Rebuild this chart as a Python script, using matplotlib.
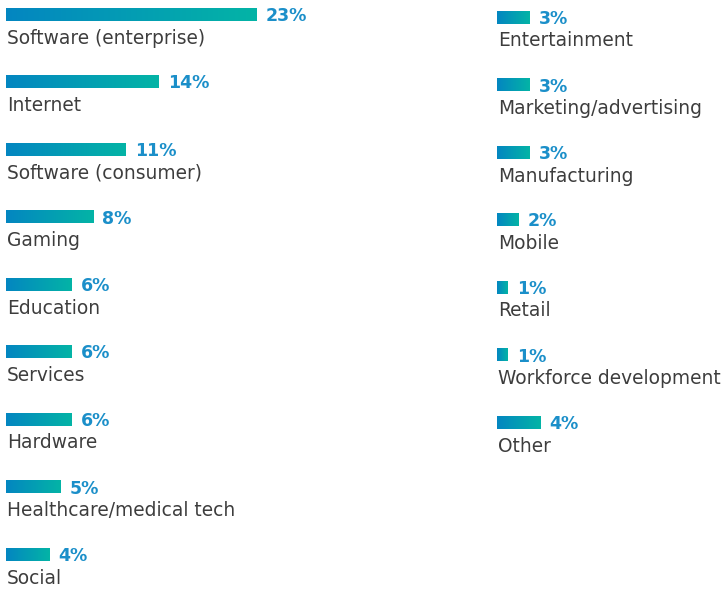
import numpy as np
import matplotlib.pyplot as plt
from matplotlib.colors import LinearSegmentedColormap

left_labels = ['Software (enterprise)', 'Internet', 'Software (consumer)', 'Gaming',
               'Education', 'Services', 'Hardware', 'Healthcare/medical tech', 'Social']
left_values = [23, 14, 11, 8, 6, 6, 6, 5, 4]

right_labels = ['Entertainment', 'Marketing/advertising', 'Manufacturing', 'Mobile',
                'Retail', 'Workforce development', 'Other']
right_values = [3, 3, 3, 2, 1, 1, 4]

W, H = 725, 595
PX_PER_PCT = 10.9
ROW = 67.5
BAR_H = 12.5 / ROW

cmap = LinearSegmentedColormap.from_list('g', ['#0386c1', '#04b4a6'])
grad = np.linspace(0, 1, 256).reshape(1, -1)

plt.rcParams['font.family'] = ['DejaVu Sans']
fig = plt.figure(figsize=(W / 100, H / 100), dpi=100)


def column(x0_px, top_px, labels, values):
    width_px = W - x0_px
    ax = fig.add_axes([x0_px / W, 0, width_px / W, 1])
    ax.axis('off')
    for i, (lab, v) in enumerate(zip(labels, values)):
        ax.imshow(grad, cmap=cmap, aspect='auto', interpolation='bilinear',
                  extent=[0, v, i + BAR_H / 2, i - BAR_H / 2])
        ax.text(v + 9 / PX_PER_PCT, i + 6.5 / ROW, f'{v}%', fontsize=12.5, fontweight='bold',
                color='#1b8fc9', va='baseline', ha='left')
        ax.text(1 / PX_PER_PCT, i + 29 / ROW, lab, fontsize=13.4, color='#3d3d3d',
                va='baseline', ha='left')
    ax.set_xlim(0, width_px / PX_PER_PCT)
    ax.set_ylim((H - top_px) / ROW, -top_px / ROW)


column(6, 14.5, left_labels, left_values)
column(497, 17.5, right_labels, right_values)

fig.savefig('out.png', dpi=100)
